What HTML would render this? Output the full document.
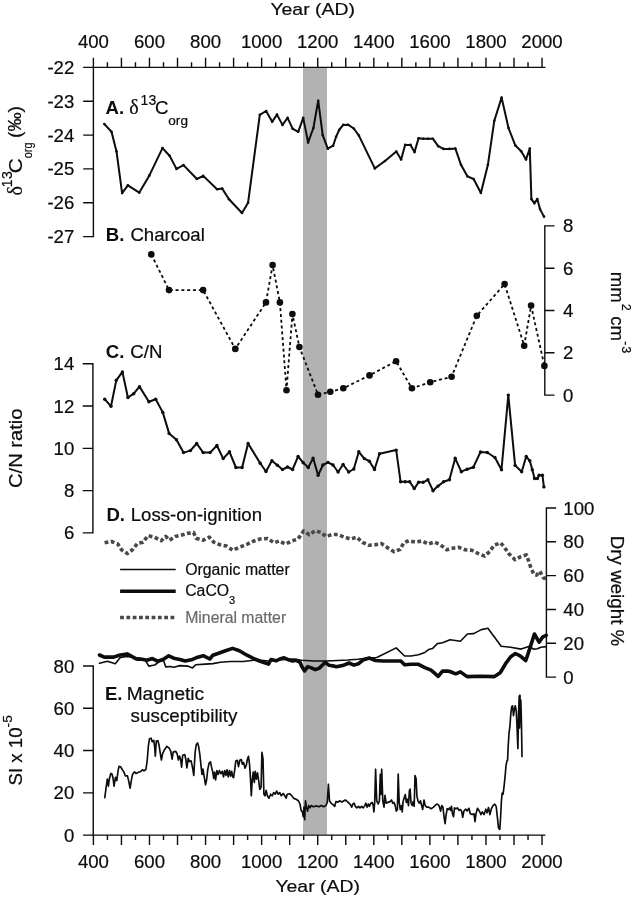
<!DOCTYPE html>
<html><head><meta charset="utf-8"><title>Figure</title>
<style>
html,body{margin:0;padding:0;background:#fff;}
body{width:633px;height:898px;overflow:hidden;}
svg{display:block;}
text{font-family:"Liberation Sans",sans-serif;fill:#0a0a0a;stroke:#0a0a0a;stroke-width:0.2px;}
.b{stroke-width:0;}
.t{font-size:18.6px;}
.b{font-weight:bold;}
.s{font-size:14px;}
.lg{font-size:15.8px;}
.ser{font-family:"Liberation Serif",serif;}
.ax{stroke:#0a0a0a;stroke-width:1.4;fill:none;stroke-linecap:butt;}
.ln{stroke:#0a0a0a;fill:none;stroke-linejoin:round;stroke-linecap:round;}
</style></head><body>
<svg width="633" height="898" viewBox="0 0 633 898">
<defs><filter id="sf" x="0" y="0" width="633" height="898" filterUnits="userSpaceOnUse"><feGaussianBlur stdDeviation="0.3"/></filter></defs>
<g filter="url(#sf)">
<rect x="-5" y="-5" width="643" height="908" fill="#fff"/>
<rect x="303" y="68" width="24" height="766.5" fill="#b2b2b2"/>

<path class="ax" d="M92.75 67.4 H545.45"/>
<path class="ax" d="M92.75 835.1 H545.45"/>
<path class="ax" d="M93.40 67.4 V57.70 M93.40 835.1 V845.00 M107.42 67.4 V62.20 M107.42 835.1 V839.90 M121.44 67.4 V57.70 M121.44 835.1 V845.00 M135.46 67.4 V62.20 M135.46 835.1 V839.90 M149.48 67.4 V57.70 M149.48 835.1 V845.00 M163.50 67.4 V62.20 M163.50 835.1 V839.90 M177.52 67.4 V57.70 M177.52 835.1 V845.00 M191.54 67.4 V62.20 M191.54 835.1 V839.90 M205.56 67.4 V57.70 M205.56 835.1 V845.00 M219.58 67.4 V62.20 M219.58 835.1 V839.90 M233.60 67.4 V57.70 M233.60 835.1 V845.00 M247.62 67.4 V62.20 M247.62 835.1 V839.90 M261.64 67.4 V57.70 M261.64 835.1 V845.00 M275.66 67.4 V62.20 M275.66 835.1 V839.90 M289.68 67.4 V57.70 M289.68 835.1 V845.00 M303.70 67.4 V62.20 M303.70 835.1 V839.90 M317.72 67.4 V57.70 M317.72 835.1 V845.00 M331.74 67.4 V62.20 M331.74 835.1 V839.90 M345.76 67.4 V57.70 M345.76 835.1 V845.00 M359.78 67.4 V62.20 M359.78 835.1 V839.90 M373.80 67.4 V57.70 M373.80 835.1 V845.00 M387.82 67.4 V62.20 M387.82 835.1 V839.90 M401.84 67.4 V57.70 M401.84 835.1 V845.00 M415.86 67.4 V62.20 M415.86 835.1 V839.90 M429.88 67.4 V57.70 M429.88 835.1 V845.00 M443.90 67.4 V62.20 M443.90 835.1 V839.90 M457.92 67.4 V57.70 M457.92 835.1 V845.00 M471.94 67.4 V62.20 M471.94 835.1 V839.90 M485.96 67.4 V57.70 M485.96 835.1 V845.00 M499.98 67.4 V62.20 M499.98 835.1 V839.90 M514.00 67.4 V57.70 M514.00 835.1 V845.00 M528.02 67.4 V62.20 M528.02 835.1 V839.90 M542.04 67.4 V57.70 M542.04 835.1 V845.00 "/>
<text class="t" x="93.4" y="47.8" text-anchor="middle">400</text>
<text class="t" x="93.4" y="867.8" text-anchor="middle">400</text>
<text class="t" x="149.5" y="47.8" text-anchor="middle">600</text>
<text class="t" x="149.5" y="867.8" text-anchor="middle">600</text>
<text class="t" x="205.6" y="47.8" text-anchor="middle">800</text>
<text class="t" x="205.6" y="867.8" text-anchor="middle">800</text>
<text class="t" x="261.6" y="47.8" text-anchor="middle">1000</text>
<text class="t" x="261.6" y="867.8" text-anchor="middle">1000</text>
<text class="t" x="317.7" y="47.8" text-anchor="middle">1200</text>
<text class="t" x="317.7" y="867.8" text-anchor="middle">1200</text>
<text class="t" x="373.8" y="47.8" text-anchor="middle">1400</text>
<text class="t" x="373.8" y="867.8" text-anchor="middle">1400</text>
<text class="t" x="429.9" y="47.8" text-anchor="middle">1600</text>
<text class="t" x="429.9" y="867.8" text-anchor="middle">1600</text>
<text class="t" x="486.0" y="47.8" text-anchor="middle">1800</text>
<text class="t" x="486.0" y="867.8" text-anchor="middle">1800</text>
<text class="t" x="542.0" y="47.8" text-anchor="middle">2000</text>
<text class="t" x="542.0" y="867.8" text-anchor="middle">2000</text>
<text class="t" x="74.3" y="73.9" text-anchor="end">-22</text>
<text class="t" x="74.3" y="107.7" text-anchor="end">-23</text>
<text class="t" x="74.3" y="141.6" text-anchor="end">-24</text>
<text class="t" x="74.3" y="175.4" text-anchor="end">-25</text>
<text class="t" x="74.3" y="209.3" text-anchor="end">-26</text>
<text class="t" x="74.3" y="243.1" text-anchor="end">-27</text>
<path class="ax" d="M93.4 66.70 V237.30 M93.4 67.40 H83.20 M93.4 101.24 H83.20 M93.4 135.08 H83.20 M93.4 168.92 H83.20 M93.4 202.76 H83.20 M93.4 236.60 H83.20 "/>
<text class="t" x="74.3" y="370.3" text-anchor="end">14</text>
<text class="t" x="74.3" y="412.6" text-anchor="end">12</text>
<text class="t" x="74.3" y="454.8" text-anchor="end">10</text>
<text class="t" x="74.3" y="497.1" text-anchor="end">8</text>
<text class="t" x="74.3" y="539.4" text-anchor="end">6</text>
<path class="ax" d="M92.9 363.10 V533.60 M92.9 363.80 H82.70 M92.9 406.07 H82.70 M92.9 448.34 H82.70 M92.9 490.61 H82.70 M92.9 532.88 H82.70 "/>
<text class="t" x="74.3" y="672.5" text-anchor="end">80</text>
<text class="t" x="74.3" y="714.8" text-anchor="end">60</text>
<text class="t" x="74.3" y="757.0" text-anchor="end">40</text>
<text class="t" x="74.3" y="799.3" text-anchor="end">20</text>
<text class="t" x="74.3" y="841.6" text-anchor="end">0</text>
<path class="ax" d="M93.25 665.30 V835.80 M93.25 666.00 H83.05 M93.25 708.27 H83.05 M93.25 750.55 H83.05 M93.25 792.83 H83.05 M93.25 835.10 H83.05 "/>
<text class="t" x="563.0" y="232.4">8</text>
<text class="t" x="563.0" y="274.7">6</text>
<text class="t" x="563.0" y="317.0">4</text>
<text class="t" x="563.0" y="359.3">2</text>
<text class="t" x="563.0" y="401.6">0</text>
<path class="ax" d="M544.8 225.20 V395.80 M544.8 225.90 H554.50 M544.8 268.20 H554.50 M544.8 310.50 H554.50 M544.8 352.80 H554.50 M544.8 395.10 H554.50 "/>
<text class="t" x="563.3" y="514.5">100</text>
<text class="t" x="563.3" y="548.3">80</text>
<text class="t" x="563.3" y="582.1">60</text>
<text class="t" x="563.3" y="616.0">40</text>
<text class="t" x="563.3" y="649.8">20</text>
<text class="t" x="563.3" y="683.6">0</text>
<path class="ax" d="M546.4 507.30 V677.80 M546.4 508.00 H556.10 M546.4 541.82 H556.10 M546.4 575.64 H556.10 M546.4 609.46 H556.10 M546.4 643.28 H556.10 M546.4 677.10 H556.10 "/>
<polyline class="ln" stroke-width="2.0" points="104.4,124.1 111.5,131.7 116.5,151.4 122.1,193.1 127.9,185.3 139.3,192.6 149.4,175.4 162.5,148.1 169.6,155.7 176.5,168.9 183.5,165.1 196.9,179.0 203.2,175.9 217.1,189.3 222.2,188.6 229.0,199.2 242.0,213.0 248.1,202.7 259.8,114.8 266.1,111.0 272.2,121.7 277.0,114.6 282.5,124.9 287.6,117.9 292.6,128.7 298.2,131.8 303.2,117.9 308.1,142.4 313.4,128.0 318.2,100.7 322.7,135.1 327.8,148.7 333.1,145.7 336.1,136.8 339.1,130.0 343.2,124.9 348.0,124.7 353.8,128.5 358.9,135.6 374.8,168.4 385.0,161.0 396.3,151.6 401.1,159.4 405.1,144.9 410.5,144.9 414.5,152.1 418.6,138.2 423.4,138.7 428.0,138.7 432.8,138.7 438.2,146.2 443.5,148.9 449.5,148.9 455.4,148.6 461.0,164.8 467.4,176.3 473.6,179.0 480.9,193.0 487.9,164.8 494.3,120.7 501.6,97.6 508.5,128.0 515.3,145.4 521.2,151.3 526.0,159.4 529.8,148.6 531.4,199.1 534.3,203.2 537.3,199.1 540.0,209.1 544.0,216.6"/>
<circle cx="104.4" cy="124.1" r="1.3" fill="#0a0a0a"/>
<circle cx="111.5" cy="131.7" r="1.3" fill="#0a0a0a"/>
<circle cx="116.5" cy="151.4" r="1.3" fill="#0a0a0a"/>
<circle cx="122.1" cy="193.1" r="1.3" fill="#0a0a0a"/>
<circle cx="127.9" cy="185.3" r="1.3" fill="#0a0a0a"/>
<circle cx="139.3" cy="192.6" r="1.3" fill="#0a0a0a"/>
<circle cx="149.4" cy="175.4" r="1.3" fill="#0a0a0a"/>
<circle cx="162.5" cy="148.1" r="1.3" fill="#0a0a0a"/>
<circle cx="169.6" cy="155.7" r="1.3" fill="#0a0a0a"/>
<circle cx="176.5" cy="168.9" r="1.3" fill="#0a0a0a"/>
<circle cx="183.5" cy="165.1" r="1.3" fill="#0a0a0a"/>
<circle cx="196.9" cy="179.0" r="1.3" fill="#0a0a0a"/>
<circle cx="203.2" cy="175.9" r="1.3" fill="#0a0a0a"/>
<circle cx="217.1" cy="189.3" r="1.3" fill="#0a0a0a"/>
<circle cx="222.2" cy="188.6" r="1.3" fill="#0a0a0a"/>
<circle cx="229.0" cy="199.2" r="1.3" fill="#0a0a0a"/>
<circle cx="242.0" cy="213.0" r="1.3" fill="#0a0a0a"/>
<circle cx="248.1" cy="202.7" r="1.3" fill="#0a0a0a"/>
<circle cx="259.8" cy="114.8" r="1.3" fill="#0a0a0a"/>
<circle cx="266.1" cy="111.0" r="1.3" fill="#0a0a0a"/>
<circle cx="272.2" cy="121.7" r="1.3" fill="#0a0a0a"/>
<circle cx="277.0" cy="114.6" r="1.3" fill="#0a0a0a"/>
<circle cx="282.5" cy="124.9" r="1.3" fill="#0a0a0a"/>
<circle cx="287.6" cy="117.9" r="1.3" fill="#0a0a0a"/>
<circle cx="292.6" cy="128.7" r="1.3" fill="#0a0a0a"/>
<circle cx="298.2" cy="131.8" r="1.3" fill="#0a0a0a"/>
<circle cx="303.2" cy="117.9" r="1.3" fill="#0a0a0a"/>
<circle cx="308.1" cy="142.4" r="1.3" fill="#0a0a0a"/>
<circle cx="313.4" cy="128.0" r="1.3" fill="#0a0a0a"/>
<circle cx="318.2" cy="100.7" r="1.3" fill="#0a0a0a"/>
<circle cx="322.7" cy="135.1" r="1.3" fill="#0a0a0a"/>
<circle cx="327.8" cy="148.7" r="1.3" fill="#0a0a0a"/>
<circle cx="333.1" cy="145.7" r="1.3" fill="#0a0a0a"/>
<circle cx="336.1" cy="136.8" r="1.3" fill="#0a0a0a"/>
<circle cx="339.1" cy="130.0" r="1.3" fill="#0a0a0a"/>
<circle cx="343.2" cy="124.9" r="1.3" fill="#0a0a0a"/>
<circle cx="348.0" cy="124.7" r="1.3" fill="#0a0a0a"/>
<circle cx="353.8" cy="128.5" r="1.3" fill="#0a0a0a"/>
<circle cx="358.9" cy="135.6" r="1.3" fill="#0a0a0a"/>
<circle cx="374.8" cy="168.4" r="1.3" fill="#0a0a0a"/>
<circle cx="385.0" cy="161.0" r="1.3" fill="#0a0a0a"/>
<circle cx="396.3" cy="151.6" r="1.3" fill="#0a0a0a"/>
<circle cx="401.1" cy="159.4" r="1.3" fill="#0a0a0a"/>
<circle cx="405.1" cy="144.9" r="1.3" fill="#0a0a0a"/>
<circle cx="410.5" cy="144.9" r="1.3" fill="#0a0a0a"/>
<circle cx="414.5" cy="152.1" r="1.3" fill="#0a0a0a"/>
<circle cx="418.6" cy="138.2" r="1.3" fill="#0a0a0a"/>
<circle cx="423.4" cy="138.7" r="1.3" fill="#0a0a0a"/>
<circle cx="428.0" cy="138.7" r="1.3" fill="#0a0a0a"/>
<circle cx="432.8" cy="138.7" r="1.3" fill="#0a0a0a"/>
<circle cx="438.2" cy="146.2" r="1.3" fill="#0a0a0a"/>
<circle cx="443.5" cy="148.9" r="1.3" fill="#0a0a0a"/>
<circle cx="449.5" cy="148.9" r="1.3" fill="#0a0a0a"/>
<circle cx="455.4" cy="148.6" r="1.3" fill="#0a0a0a"/>
<circle cx="461.0" cy="164.8" r="1.3" fill="#0a0a0a"/>
<circle cx="467.4" cy="176.3" r="1.3" fill="#0a0a0a"/>
<circle cx="473.6" cy="179.0" r="1.3" fill="#0a0a0a"/>
<circle cx="480.9" cy="193.0" r="1.3" fill="#0a0a0a"/>
<circle cx="487.9" cy="164.8" r="1.3" fill="#0a0a0a"/>
<circle cx="494.3" cy="120.7" r="1.3" fill="#0a0a0a"/>
<circle cx="501.6" cy="97.6" r="1.3" fill="#0a0a0a"/>
<circle cx="508.5" cy="128.0" r="1.3" fill="#0a0a0a"/>
<circle cx="515.3" cy="145.4" r="1.3" fill="#0a0a0a"/>
<circle cx="521.2" cy="151.3" r="1.3" fill="#0a0a0a"/>
<circle cx="526.0" cy="159.4" r="1.3" fill="#0a0a0a"/>
<circle cx="529.8" cy="148.6" r="1.3" fill="#0a0a0a"/>
<circle cx="531.4" cy="199.1" r="1.3" fill="#0a0a0a"/>
<circle cx="534.3" cy="203.2" r="1.3" fill="#0a0a0a"/>
<circle cx="537.3" cy="199.1" r="1.3" fill="#0a0a0a"/>
<circle cx="540.0" cy="209.1" r="1.3" fill="#0a0a0a"/>
<circle cx="544.0" cy="216.6" r="1.3" fill="#0a0a0a"/>
<polyline class="ln" stroke-width="1.8" stroke-dasharray="3 2.8" stroke-linecap="butt" style="stroke-linecap:butt" points="151.3,254.4 169.0,290.1 203.1,290.1 235.3,348.9 266.0,302.4 272.6,265.1 279.9,302.4 286.5,390.2 292.4,314.1 299.4,347.0 318.0,394.7 330.3,391.8 343.3,388.3 369.5,375.4 396.1,361.2 411.9,388.3 430.2,382.3 451.6,376.7 476.8,315.7 504.6,284.1 524.2,345.7 531.1,305.6 544.4,365.9"/>
<circle cx="151.3" cy="254.4" r="3.3" fill="#0a0a0a"/>
<circle cx="169.0" cy="290.1" r="3.3" fill="#0a0a0a"/>
<circle cx="203.1" cy="290.1" r="3.3" fill="#0a0a0a"/>
<circle cx="235.3" cy="348.9" r="3.3" fill="#0a0a0a"/>
<circle cx="266.0" cy="302.4" r="3.3" fill="#0a0a0a"/>
<circle cx="272.6" cy="265.1" r="3.3" fill="#0a0a0a"/>
<circle cx="279.9" cy="302.4" r="3.3" fill="#0a0a0a"/>
<circle cx="286.5" cy="390.2" r="3.3" fill="#0a0a0a"/>
<circle cx="292.4" cy="314.1" r="3.3" fill="#0a0a0a"/>
<circle cx="299.4" cy="347.0" r="3.3" fill="#0a0a0a"/>
<circle cx="318.0" cy="394.7" r="3.3" fill="#0a0a0a"/>
<circle cx="330.3" cy="391.8" r="3.3" fill="#0a0a0a"/>
<circle cx="343.3" cy="388.3" r="3.3" fill="#0a0a0a"/>
<circle cx="369.5" cy="375.4" r="3.3" fill="#0a0a0a"/>
<circle cx="396.1" cy="361.2" r="3.3" fill="#0a0a0a"/>
<circle cx="411.9" cy="388.3" r="3.3" fill="#0a0a0a"/>
<circle cx="430.2" cy="382.3" r="3.3" fill="#0a0a0a"/>
<circle cx="451.6" cy="376.7" r="3.3" fill="#0a0a0a"/>
<circle cx="476.8" cy="315.7" r="3.3" fill="#0a0a0a"/>
<circle cx="504.6" cy="284.1" r="3.3" fill="#0a0a0a"/>
<circle cx="524.2" cy="345.7" r="3.3" fill="#0a0a0a"/>
<circle cx="531.1" cy="305.6" r="3.3" fill="#0a0a0a"/>
<circle cx="544.4" cy="365.9" r="3.3" fill="#0a0a0a"/>
<polyline class="ln" stroke-width="2.0" points="104.7,399.2 111.0,406.3 116.3,380.3 122.4,371.9 127.9,397.5 133.7,393.7 139.5,386.6 148.9,401.8 155.7,399.2 162.8,412.4 169.1,433.4 176.5,439.7 183.5,452.6 190.4,450.6 196.7,443.5 203.2,452.6 210.1,452.6 216.9,445.5 223.2,458.6 229.5,451.8 235.9,467.5 242.1,467.5 248.1,443.5 260.2,463.2 266.0,471.5 271.9,460.7 277.4,465.2 282.5,469.5 287.5,467.0 292.6,469.5 298.1,456.4 303.2,462.7 308.3,467.5 313.1,458.1 318.1,475.3 322.9,465.0 328.0,462.4 333.0,465.0 338.1,472.0 343.1,464.5 348.7,472.0 353.8,469.0 358.8,451.8 364.4,458.6 369.4,461.2 374.5,469.5 379.5,453.8 396.2,450.1 400.6,481.8 405.2,481.8 409.7,481.8 414.3,488.6 418.6,482.3 423.1,482.3 427.9,479.8 433.0,490.7 438.0,486.1 443.6,481.8 449.4,479.8 455.2,458.3 461.3,471.7 467.1,469.2 473.4,467.2 480.5,452.0 487.3,452.5 494.9,457.5 501.5,469.7 508.3,395.1 515.1,465.4 521.7,471.7 526.2,456.5 529.8,460.8 532.3,469.7 534.6,478.5 537.4,478.5 539.1,475.2 542.4,475.2 543.9,486.9"/>
<circle cx="104.7" cy="399.2" r="1.7" fill="#0a0a0a"/>
<circle cx="111.0" cy="406.3" r="1.7" fill="#0a0a0a"/>
<circle cx="116.3" cy="380.3" r="1.7" fill="#0a0a0a"/>
<circle cx="122.4" cy="371.9" r="1.7" fill="#0a0a0a"/>
<circle cx="127.9" cy="397.5" r="1.7" fill="#0a0a0a"/>
<circle cx="133.7" cy="393.7" r="1.7" fill="#0a0a0a"/>
<circle cx="139.5" cy="386.6" r="1.7" fill="#0a0a0a"/>
<circle cx="148.9" cy="401.8" r="1.7" fill="#0a0a0a"/>
<circle cx="155.7" cy="399.2" r="1.7" fill="#0a0a0a"/>
<circle cx="162.8" cy="412.4" r="1.7" fill="#0a0a0a"/>
<circle cx="169.1" cy="433.4" r="1.7" fill="#0a0a0a"/>
<circle cx="176.5" cy="439.7" r="1.7" fill="#0a0a0a"/>
<circle cx="183.5" cy="452.6" r="1.7" fill="#0a0a0a"/>
<circle cx="190.4" cy="450.6" r="1.7" fill="#0a0a0a"/>
<circle cx="196.7" cy="443.5" r="1.7" fill="#0a0a0a"/>
<circle cx="203.2" cy="452.6" r="1.7" fill="#0a0a0a"/>
<circle cx="210.1" cy="452.6" r="1.7" fill="#0a0a0a"/>
<circle cx="216.9" cy="445.5" r="1.7" fill="#0a0a0a"/>
<circle cx="223.2" cy="458.6" r="1.7" fill="#0a0a0a"/>
<circle cx="229.5" cy="451.8" r="1.7" fill="#0a0a0a"/>
<circle cx="235.9" cy="467.5" r="1.7" fill="#0a0a0a"/>
<circle cx="242.1" cy="467.5" r="1.7" fill="#0a0a0a"/>
<circle cx="248.1" cy="443.5" r="1.7" fill="#0a0a0a"/>
<circle cx="260.2" cy="463.2" r="1.7" fill="#0a0a0a"/>
<circle cx="266.0" cy="471.5" r="1.7" fill="#0a0a0a"/>
<circle cx="271.9" cy="460.7" r="1.7" fill="#0a0a0a"/>
<circle cx="277.4" cy="465.2" r="1.7" fill="#0a0a0a"/>
<circle cx="282.5" cy="469.5" r="1.7" fill="#0a0a0a"/>
<circle cx="287.5" cy="467.0" r="1.7" fill="#0a0a0a"/>
<circle cx="292.6" cy="469.5" r="1.7" fill="#0a0a0a"/>
<circle cx="298.1" cy="456.4" r="1.7" fill="#0a0a0a"/>
<circle cx="303.2" cy="462.7" r="1.7" fill="#0a0a0a"/>
<circle cx="308.3" cy="467.5" r="1.7" fill="#0a0a0a"/>
<circle cx="313.1" cy="458.1" r="1.7" fill="#0a0a0a"/>
<circle cx="318.1" cy="475.3" r="1.7" fill="#0a0a0a"/>
<circle cx="322.9" cy="465.0" r="1.7" fill="#0a0a0a"/>
<circle cx="328.0" cy="462.4" r="1.7" fill="#0a0a0a"/>
<circle cx="333.0" cy="465.0" r="1.7" fill="#0a0a0a"/>
<circle cx="338.1" cy="472.0" r="1.7" fill="#0a0a0a"/>
<circle cx="343.1" cy="464.5" r="1.7" fill="#0a0a0a"/>
<circle cx="348.7" cy="472.0" r="1.7" fill="#0a0a0a"/>
<circle cx="353.8" cy="469.0" r="1.7" fill="#0a0a0a"/>
<circle cx="358.8" cy="451.8" r="1.7" fill="#0a0a0a"/>
<circle cx="364.4" cy="458.6" r="1.7" fill="#0a0a0a"/>
<circle cx="369.4" cy="461.2" r="1.7" fill="#0a0a0a"/>
<circle cx="374.5" cy="469.5" r="1.7" fill="#0a0a0a"/>
<circle cx="379.5" cy="453.8" r="1.7" fill="#0a0a0a"/>
<circle cx="396.2" cy="450.1" r="1.7" fill="#0a0a0a"/>
<circle cx="400.6" cy="481.8" r="1.7" fill="#0a0a0a"/>
<circle cx="405.2" cy="481.8" r="1.7" fill="#0a0a0a"/>
<circle cx="409.7" cy="481.8" r="1.7" fill="#0a0a0a"/>
<circle cx="414.3" cy="488.6" r="1.7" fill="#0a0a0a"/>
<circle cx="418.6" cy="482.3" r="1.7" fill="#0a0a0a"/>
<circle cx="423.1" cy="482.3" r="1.7" fill="#0a0a0a"/>
<circle cx="427.9" cy="479.8" r="1.7" fill="#0a0a0a"/>
<circle cx="433.0" cy="490.7" r="1.7" fill="#0a0a0a"/>
<circle cx="438.0" cy="486.1" r="1.7" fill="#0a0a0a"/>
<circle cx="443.6" cy="481.8" r="1.7" fill="#0a0a0a"/>
<circle cx="449.4" cy="479.8" r="1.7" fill="#0a0a0a"/>
<circle cx="455.2" cy="458.3" r="1.7" fill="#0a0a0a"/>
<circle cx="461.3" cy="471.7" r="1.7" fill="#0a0a0a"/>
<circle cx="467.1" cy="469.2" r="1.7" fill="#0a0a0a"/>
<circle cx="473.4" cy="467.2" r="1.7" fill="#0a0a0a"/>
<circle cx="480.5" cy="452.0" r="1.7" fill="#0a0a0a"/>
<circle cx="487.3" cy="452.5" r="1.7" fill="#0a0a0a"/>
<circle cx="494.9" cy="457.5" r="1.7" fill="#0a0a0a"/>
<circle cx="501.5" cy="469.7" r="1.7" fill="#0a0a0a"/>
<circle cx="508.3" cy="395.1" r="1.7" fill="#0a0a0a"/>
<circle cx="515.1" cy="465.4" r="1.7" fill="#0a0a0a"/>
<circle cx="521.7" cy="471.7" r="1.7" fill="#0a0a0a"/>
<circle cx="526.2" cy="456.5" r="1.7" fill="#0a0a0a"/>
<circle cx="529.8" cy="460.8" r="1.7" fill="#0a0a0a"/>
<circle cx="532.3" cy="469.7" r="1.7" fill="#0a0a0a"/>
<circle cx="534.6" cy="478.5" r="1.7" fill="#0a0a0a"/>
<circle cx="537.4" cy="478.5" r="1.7" fill="#0a0a0a"/>
<circle cx="539.1" cy="475.2" r="1.7" fill="#0a0a0a"/>
<circle cx="542.4" cy="475.2" r="1.7" fill="#0a0a0a"/>
<circle cx="543.9" cy="486.9" r="1.7" fill="#0a0a0a"/>
<polyline fill="none" stroke="#484848" stroke-width="3.6" stroke-dasharray="3.8 2.5" stroke-linejoin="round" points="104.6,542.8 111.4,541.5 117.8,544.0 121.5,549.8 127.4,553.6 132.4,549.8 137.5,543.3 143.0,542.2 148.1,535.7 154.4,537.2 161.2,540.7 165.8,536.4 169.6,540.2 175.4,536.4 180.9,535.2 187.3,533.4 193.6,532.6 196.1,538.2 203.2,540.2 209.3,537.2 213.8,542.2 220.1,544.8 226.4,546.0 232.8,550.3 239.1,547.3 246.7,544.5 252.5,541.5 260.1,539.0 267.7,538.5 274.0,542.8 279.1,541.0 285.4,544.1 291.7,541.0 298.0,539.0 303.6,530.9 309.4,534.7 315.2,530.7 321.5,532.7 325.8,536.5 332.2,534.5 338.0,534.5 344.0,537.0 350.6,539.0 356.7,537.2 362.5,542.3 368.8,545.3 375.1,544.8 381.4,543.6 387.8,547.9 394.1,551.7 400.2,549.3 403.8,542.8 408.8,540.7 415.2,542.0 422.2,541.0 428.3,544.0 434.1,542.0 440.4,544.8 446.8,549.8 452.6,548.3 458.6,547.3 465.2,549.8 472.0,550.3 478.4,553.6 484.7,556.1 489.7,551.6 494.0,545.3 500.6,542.8 504.4,547.3 508.7,553.6 515.0,559.7 520.8,556.7 526.4,554.9 528.9,561.7 530.9,568.0 534.0,574.3 536.5,575.1 539.8,571.3 543.6,578.1 546.2,578.6"/>
<polyline class="ln" stroke-width="1.6" points="99.5,663.2 107.4,661.3 115.3,663.7 120.0,657.7 124.8,656.6 131.7,656.6 136.8,659.9 145.3,660.2 148.8,666.1 154.8,665.0 159.5,661.3 163.5,660.5 165.8,666.9 170.6,666.5 173.7,667.2 180.0,665.6 187.6,666.1 192.6,667.9 195.7,664.8 205.3,664.1 212.9,663.6 220.4,662.3 230.6,661.5 243.2,661.5 253.3,660.3 260.9,660.3 268.5,661.0 281.1,659.8 293.7,659.0 301.3,660.3 314.0,661.0 326.6,661.0 337.6,660.5 347.7,660.0 357.8,659.2 367.9,658.0 376.8,657.5 396.2,647.9 404.6,656.0 410.9,656.0 418.5,654.7 424.8,652.4 428.6,649.6 432.4,648.6 437.4,643.6 442.5,642.8 450.1,639.8 460.4,641.2 467.4,634.0 473.7,633.6 481.3,629.6 487.9,628.3 501.2,646.3 510.7,647.2 521.1,649.1 529.6,646.3 533.4,649.1 537.2,648.7 541.0,647.2 546.2,646.6"/>
<polyline class="ln" stroke-width="3.6" points="99.5,655.0 104.2,657.1 113.7,657.1 119.2,655.3 127.1,653.9 135.8,658.6 142.1,659.3 146.9,660.2 152.4,658.6 157.9,661.3 163.5,659.3 168.7,655.8 173.7,658.2 180.0,659.5 185.1,661.0 191.4,659.8 197.7,657.2 203.3,655.7 209.8,659.0 212.9,655.2 217.9,653.5 225.5,650.7 232.6,648.4 239.4,650.7 247.0,655.2 254.6,659.0 260.9,661.5 268.5,664.1 271.0,659.5 276.1,660.8 279.8,659.0 284.1,657.8 288.7,659.8 292.5,661.0 296.3,660.3 300.1,662.3 301.8,666.6 304.6,670.9 307.7,666.6 311.4,667.9 315.2,669.6 319.0,668.4 322.8,664.8 325.3,662.3 329.1,665.3 334.2,666.1 336.3,666.8 342.6,665.6 349.0,663.0 354.0,665.1 358.3,663.8 362.9,660.0 369.2,658.0 375.5,660.5 383.1,661.0 393.2,661.0 400.8,661.0 404.6,664.8 410.9,664.3 418.5,664.3 424.8,667.6 431.1,670.1 438.2,676.4 442.5,671.1 447.5,671.1 450.0,671.5 455.7,673.8 460.4,671.9 467.1,676.6 480.3,676.2 494.5,676.6 500.2,672.8 505.9,663.3 510.7,656.7 515.4,653.5 520.1,655.8 525.8,660.5 529.6,649.1 534.4,634.0 539.1,642.1 542.9,636.8 546.2,635.3"/>
<polyline class="ln" stroke-width="1.65" points="104.8,797.6 106.1,787.7 107.3,779.0 108.4,786.1 109.2,779.8 110.8,773.4 112.1,774.2 113.2,779.0 114.0,786.1 115.5,777.4 116.8,780.6 117.9,771.9 119.0,766.3 120.6,766.7 122.2,769.5 123.8,771.9 125.3,775.8 127.4,775.8 128.6,780.6 130.1,788.1 131.3,780.6 132.6,774.2 134.5,771.9 136.1,773.4 138.4,772.3 140.8,771.4 142.4,769.8 144.0,770.8 145.9,769.5 147.1,761.6 148.4,745.8 149.5,738.7 151.1,738.2 152.2,741.8 153.8,740.3 154.7,747.4 155.3,756.1 156.3,741.1 157.9,740.7 159.0,745.0 160.1,752.1 161.4,760.0 162.6,753.7 164.5,749.7 166.9,746.3 169.2,748.2 170.8,751.3 172.1,759.2 173.2,752.1 175.6,751.3 177.1,753.7 178.4,760.0 179.5,756.1 180.6,759.2 181.6,767.1 182.7,755.3 184.7,754.5 185.8,759.2 186.9,767.9 188.2,758.4 189.5,761.6 191.1,760.8 192.6,767.9 193.8,775.5 195.1,752.4 196.3,744.5 197.6,742.9 198.7,746.8 199.8,754.0 201.1,766.6 202.0,774.5 203.0,769.0 204.2,776.9 205.5,784.8 206.6,780.0 207.7,769.8 209.0,763.4 210.5,761.9 211.6,767.4 212.9,772.9 213.7,778.4 214.6,772.1 215.6,780.0 216.9,770.5 218.1,774.5 219.4,770.5 220.8,773.7 222.4,771.3 223.5,776.9 224.8,770.5 226.0,775.3 227.1,769.8 228.2,776.9 229.5,770.5 230.6,776.1 231.7,771.3 232.7,776.9 233.6,777.7 234.7,769.8 235.8,761.1 237.4,760.3 238.5,766.6 239.8,760.3 241.3,759.5 242.4,764.2 243.7,762.6 245.0,768.2 246.4,765.0 247.3,759.5 248.5,756.3 249.6,765.0 250.5,779.2 251.3,795.8 252.2,780.8 253.2,772.1 254.3,782.4 255.2,771.3 256.4,779.2 257.5,772.9 258.7,780.8 259.8,789.5 261.1,787.1 261.9,752.4 263.0,758.7 263.9,794.2 265.0,795.8 266.1,790.3 267.4,795.8 269.0,798.2 270.6,794.2 272.1,795.8 273.7,792.7 275.3,794.2 276.6,791.1 278.2,794.2 279.7,792.7 281.3,795.8 283.2,793.5 284.8,795.8 286.1,798.2 287.2,794.2 289.7,793.7 292.1,796.1 293.7,798.4 296.1,799.2 298.4,800.8 300.0,804.0 301.1,810.3 302.4,811.9 303.2,816.6 304.0,807.1 304.7,819.8 305.5,800.8 306.6,807.9 307.6,811.1 308.7,805.6 310.0,807.9 311.1,805.6 313.4,806.8 316.6,805.9 319.0,806.8 321.3,805.6 323.7,806.8 325.8,805.6 327.3,802.4 328.4,784.2 329.5,800.8 331.1,803.2 333.2,804.8 334.8,806.3 335.9,801.6 337.9,802.1 339.5,800.8 341.9,802.1 343.8,800.8 345.3,800.0 347.4,801.6 349.0,803.2 350.6,804.8 351.7,807.1 352.9,804.0 354.2,803.2 355.3,806.3 356.9,807.9 358.5,806.3 360.0,807.9 361.6,806.3 363.2,807.9 364.8,805.6 365.9,803.2 367.1,807.1 368.4,804.0 369.5,806.3 370.8,803.2 372.2,802.4 373.2,805.6 373.9,811.9 374.7,802.4 375.6,769.2 376.7,800.8 378.2,804.0 379.4,800.8 380.3,774.4 380.9,794.5 381.7,769.2 382.8,800.8 384.0,807.1 385.0,795.3 386.1,803.2 387.6,802.4 390.0,801.6 391.6,800.0 392.7,803.2 394.0,802.4 395.2,805.6 396.3,811.1 397.4,809.5 398.2,774.0 399.2,802.4 400.3,809.5 401.5,805.6 402.2,811.9 403.1,801.6 404.2,797.7 405.3,794.5 406.3,802.4 407.4,799.2 408.5,805.6 409.4,790.5 410.1,789.0 411.0,802.4 412.1,805.6 413.2,801.6 414.2,806.3 415.0,775.5 416.1,778.7 416.9,796.1 418.0,800.8 419.2,803.2 420.5,800.8 421.6,805.6 422.7,809.5 424.0,800.0 425.2,805.6 426.8,807.1 428.7,807.1 431.1,808.7 433.5,807.1 435.8,804.8 437.4,804.0 439.0,805.6 440.6,811.1 441.7,805.6 442.9,807.1 444.2,818.2 445.1,823.7 446.1,815.0 447.2,808.7 448.5,809.5 449.6,807.9 450.5,810.3 451.5,806.3 452.4,813.5 453.5,816.6 454.5,807.9 455.9,808.7 457.5,807.9 459.0,810.3 460.6,809.5 461.8,811.9 462.7,817.3 463.9,811.0 465.7,809.2 467.1,811.0 468.9,808.3 470.3,813.7 472.1,814.6 473.9,813.7 475.0,821.7 476.0,813.7 477.5,808.3 479.3,811.0 481.0,814.6 482.3,811.9 484.1,814.6 485.8,809.2 487.1,812.8 488.5,807.5 489.9,814.6 491.2,809.2 493.0,805.7 494.8,804.2 496.2,806.6 497.4,817.3 498.5,827.9 499.8,829.4 500.6,817.3 501.4,801.2 502.1,793.2 503.1,794.1 504.2,785.2 505.1,776.3 506.0,765.6 506.9,761.1 507.6,760.2 508.1,747.7 509.0,733.5 509.9,726.3 510.8,713.9 511.7,706.7 512.6,705.8 513.5,715.7 514.4,709.4 515.3,705.8 516.3,711.2 517.0,726.3 517.9,748.6 518.5,715.7 519.2,696.0 519.6,728.0 520.0,695.2 520.4,722.0 520.8,700.0 521.2,712.0 521.5,726.3 522.0,756.6"/>
<path class="ax" stroke-width="1.2" style="stroke-width:1.5" d="M120.1 569.5 H175.7"/>
<path class="ax" style="stroke-width:3.4" d="M120.1 591.3 H175.7"/>
<path d="M120.1 617.5 H175.7" fill="none" stroke="#484848" stroke-width="3.6" stroke-dasharray="3.8 2.5"/>
<text class="lg" x="185.2" y="574.6">Organic matter</text>
<text class="lg" x="185.2" y="596.4">CaCO<tspan dy="7.5" style="font-size:11px">3</tspan></text>
<text class="lg" x="185.2" y="622.6" style="fill:#6a6a6a;stroke:#6a6a6a">Mineral matter</text>
<text class="t" x="105.6" y="114.4"><tspan class="b">A.</tspan> <tspan class="ser" style="font-size:20px">δ</tspan><tspan style="font-size:14px" dy="-9.7" dx="1.7" letter-spacing="0.2">13</tspan><tspan dy="9.7" dx="-1.6" style="font-size:18.6px">C</tspan><tspan style="font-size:13.6px" dy="10.3">org</tspan></text>
<text class="t" x="105.8" y="241.2"><tspan class="b">B.</tspan><tspan dx="6.0">Charcoal</tspan></text>
<text class="t" x="105.8" y="358.4"><tspan class="b">C.</tspan><tspan dx="5.9">C/N</tspan></text>
<text class="t" x="106.4" y="521.4"><tspan class="b">D.</tspan><tspan dx="5.8">Loss-on-ignition</tspan></text>
<text class="t" x="104.9" y="700.3"><tspan class="b">E.</tspan><tspan dx="4.2" style="font-size:19.1px">Magnetic</tspan></text>
<text class="t" x="130.6" y="721.8" style="font-size:18.85px">susceptibility</text>
<text class="t" style="font-size:17.4px" transform="translate(312.7,15.4) scale(1.118,1)" text-anchor="middle">Year (AD)</text>
<text class="t" style="font-size:17.4px" transform="translate(317.7,891.6) scale(1.118,1)" text-anchor="middle">Year (AD)</text>
<g transform="translate(21.6,194.1) rotate(-90)">
<text class="t ser" style="font-size:20px" x="-1.3" y="0.5">δ</text>
<text class="t" style="font-size:14px" x="6.9" y="-9.3" letter-spacing="0.5">13</text>
<text class="t" style="font-size:18.6px" transform="translate(20.9,0) scale(1.12,1)">C</text>
<text class="t" style="font-size:13px" transform="translate(35.8,10.0) scale(0.84,1)">org</text>
<text class="t" style="font-size:17.8px" transform="translate(56.1,-0.4) scale(1.08,1)">(‰)</text>
</g>
<text class="t" style="font-size:18.2px" transform="translate(21.8,448.2) rotate(-90) scale(1.108,1)" text-anchor="middle">C/N ratio</text>
<text class="t" style="font-size:18.2px" transform="translate(21.5,750.3) rotate(-90) scale(1.025,1)" text-anchor="middle">SI x 10<tspan style="font-size:13.5px" dy="-10">-5</tspan></text>
<text class="t" transform="translate(610.5,313.2) rotate(90)" text-anchor="middle">mm<tspan style="font-size:12px" dy="-11.6" dx="1.2">2</tspan><tspan dy="11.6" dx="0.4"> cm</tspan><tspan style="font-size:12px" dy="-11.6" dx="0.2" letter-spacing="1.3">-3</tspan></text>
<text class="t" style="font-size:18.75px" transform="translate(610.5,591) rotate(90)" text-anchor="middle">Dry weight %</text>
</g></svg></body></html>
